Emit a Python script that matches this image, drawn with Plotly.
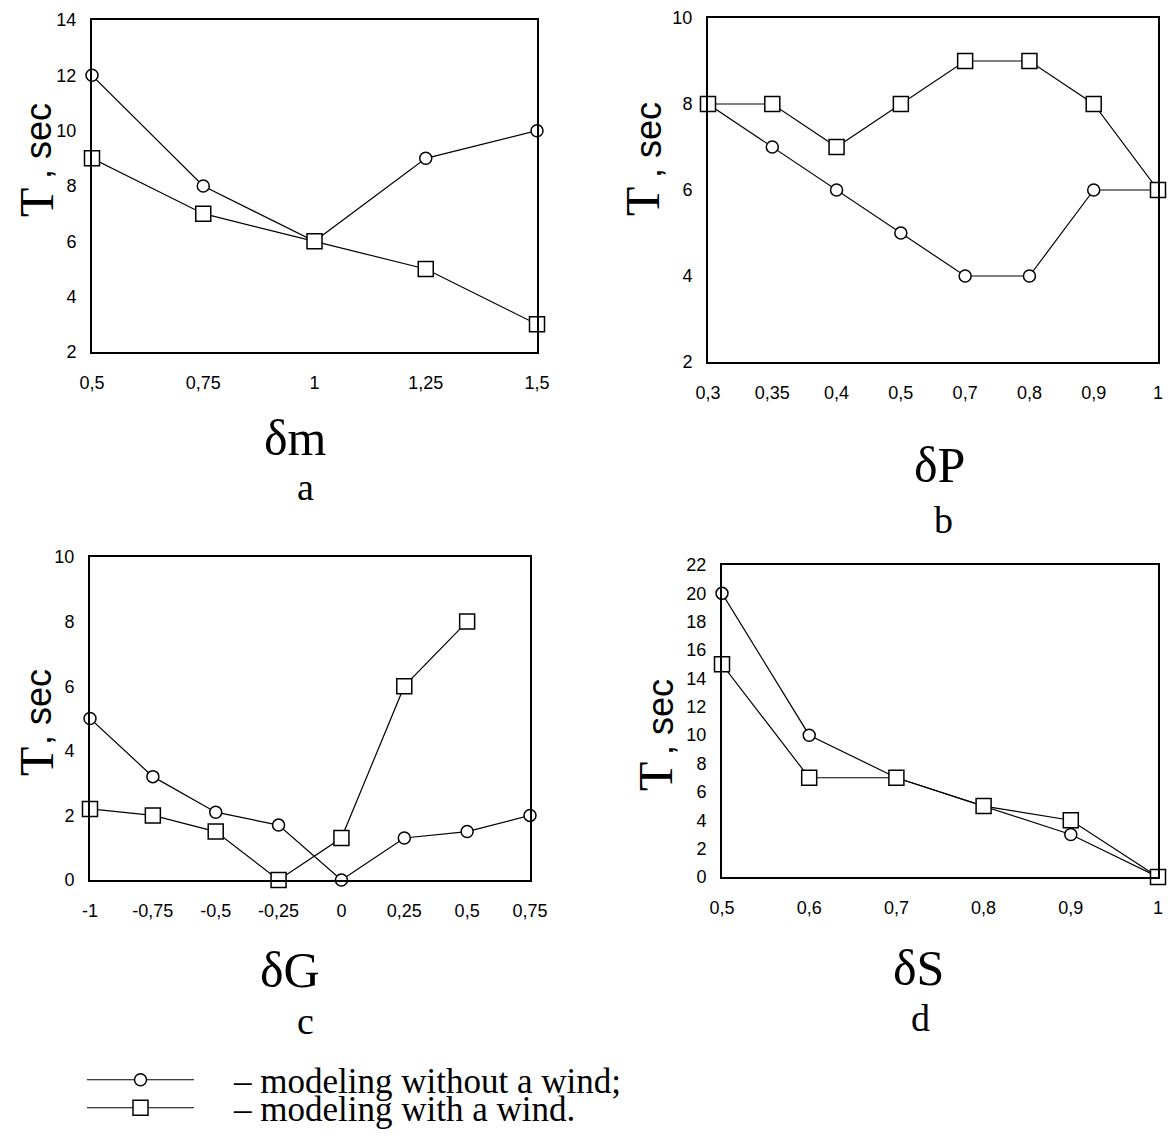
import plotly.graph_objects as go

# page body has an 8px default margin, so the figure is a bit smaller than the window
W, H = 1160, 1122

# ---------------- data ----------------
m_labels = ["0,5", "0,75", "1", "1,25", "1,5"]
m_without_wind = [12, 8, 6, 9, 10]
m_with_wind = [9, 7, 6, 5, 3]

p_labels = ["0,3", "0,35", "0,4", "0,5", "0,7", "0,8", "0,9", "1"]
p_without_wind = [8, 7, 6, 5, 4, 4, 6, 6]
p_with_wind = [8, 8, 7, 8, 9, 9, 8, 6]

g_labels = ["-1", "-0,75", "-0,5", "-0,25", "0", "0,25", "0,5", "0,75"]
g_without_wind = [5, 3.2, 2.1, 1.7, 0, 1.3, 1.5, 2]
g_with_wind = [2.2, 2.0, 1.5, 0, 1.3, 6, 8, None]

s_labels = ["0,5", "0,6", "0,7", "0,8", "0,9", "1"]
s_without_wind = [20, 10, 7, 5, 3, 0]
s_with_wind = [15, 7, 7, 5, 4, 0]

y_ranges = [(2, 14), (2, 10), (0, 10), (0, 22)]
x_titles = ["δm", "δP", "δG", "δS"]
captions = ["a", "b", "c", "d"]
series_names = ["\u00a0\u00a0\u00a0\u00a0– modeling without a wind;",
                "\u00a0\u00a0\u00a0\u00a0– modeling with a wind."]

# ---------------- layout geometry (figure pixels) ----------------
boxes = [  # x0, x1, y0(top), y1(bottom)
    (84, 529, 12, 344),
    (700, 1150, 10, 354),
    (82, 522, 549, 872),
    (714, 1150, 557, 869),
]
t_pos = [(28, 195), (635, 194), (28, 754), (647, 769)]
sec_pos = [(30, 133), (640, 132), (30, 699), (652, 709)]
xtitle_pos = [(287, 430), (931, 457), (282, 962), (910, 960)]
caption_pos = [(297, 479), (936, 512), (297, 1013), (912, 1010)]
legend_rows = [1072, 1100]

panels = [
    (m_labels, m_without_wind, m_with_wind),
    (p_labels, p_without_wind, p_with_wind),
    (g_labels, g_without_wind, g_with_wind),
    (s_labels, s_without_wind, s_with_wind),
]

fig = go.Figure()
layout = dict(
    width=W, height=H,
    margin=dict(l=0, r=0, t=0, b=0, autoexpand=False),
    paper_bgcolor="white", plot_bgcolor="white",
    annotations=[],
)

TICKFONT = dict(family="Liberation Sans, Arial", size=18, color="black")
SERIF = "Liberation Serif, Times New Roman"
SANS = "Liberation Sans, Arial"


def ann(x, y, text, family, size, angle=0):
    return dict(xref="paper", yref="paper", x=x / W, y=1 - y / H,
                xanchor="center", yanchor="middle", showarrow=False,
                textangle=angle, text=text,
                font=dict(family=family, size=size, color="black"))


for i, (labels, ynw, yw) in enumerate(panels):
    k = "" if i == 0 else str(i + 1)
    xa, ya = "x" + k, "y" + k
    x0, x1, yt, yb = boxes[i]
    lo, hi = y_ranges[i]
    fig.add_trace(go.Scatter(
        x=labels, y=ynw, xaxis=xa, yaxis=ya, mode="lines+markers",
        name=series_names[0], showlegend=(i == 0), legend="legend",
        line=dict(color="black", width=1.2), cliponaxis=False,
        marker=dict(symbol="circle", size=12, color="white",
                    line=dict(color="black", width=1.5)),
    ))
    fig.add_trace(go.Scatter(
        x=labels, y=yw, xaxis=xa, yaxis=ya, mode="lines+markers",
        name=series_names[1], showlegend=(i == 0), legend="legend2",
        line=dict(color="black", width=1.2), cliponaxis=False,
        marker=dict(symbol="square", size=15, color="white",
                    line=dict(color="black", width=1.5)),
    ))
    layout["xaxis" + k] = dict(
        domain=[x0 / W, x1 / W], anchor=ya, type="category",
        range=[0, len(labels) - 1], showgrid=False, zeroline=False,
        showline=True, mirror=True, linewidth=2, linecolor="black",
        ticks="outside", ticklen=13, tickcolor="rgba(0,0,0,0)",
        tickfont=TICKFONT,
    )
    layout["yaxis" + k] = dict(
        domain=[1 - yb / H, 1 - yt / H], anchor=xa,
        range=[lo, hi], dtick=2, showgrid=False, zeroline=False,
        showline=True, mirror=True, linewidth=2, linecolor="black",
        ticks="outside", ticklen=10, tickcolor="rgba(0,0,0,0)",
        tickfont=TICKFONT,
    )
    layout["annotations"].append(ann(*t_pos[i], "T", SERIF, 48, -90))
    layout["annotations"].append(ann(*sec_pos[i], ", sec", SANS, 36, -90))
    layout["annotations"].append(ann(*xtitle_pos[i], x_titles[i], SERIF, 50))
    layout["annotations"].append(ann(*caption_pos[i], captions[i], SERIF, 38))

LEGFONT = dict(family=SERIF, size=35, color="black")
for name, row in zip(["legend", "legend2"], legend_rows):
    layout[name] = dict(x=74 / W, y=1 - row / H, xanchor="left", yanchor="middle",
                        font=LEGFONT, itemwidth=107, bgcolor="rgba(0,0,0,0)")

fig.update_layout(**layout)
fig.write_html("out.html")
